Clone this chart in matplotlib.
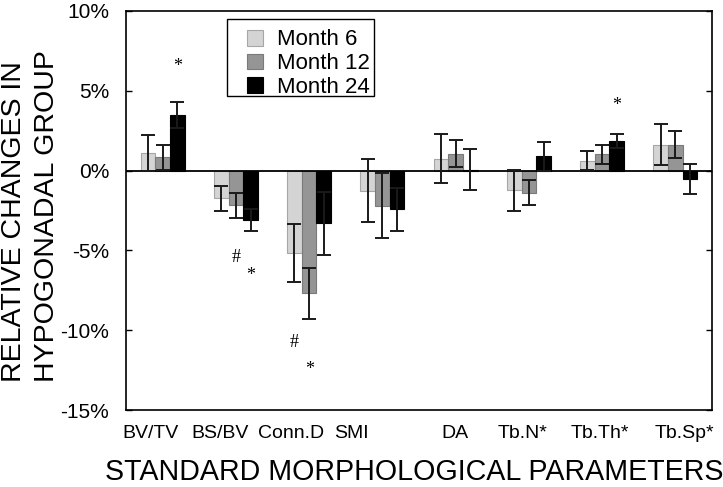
import matplotlib
matplotlib.use("Agg")
import matplotlib.pyplot as plt
from matplotlib.patches import Rectangle
import numpy as np

plt.rcParams['font.family'] = ['Liberation Sans', 'DejaVu Sans']

categories = ["BV/TV", "BS/BV", "Conn.D", "SMI", "DA", "Tb.N*", "Tb.Th*", "Tb.Sp*"]
series = ["Month 6", "Month 12", "Month 24"]

m6 = [1.10, -1.74, -5.19, -1.26, 0.75, -1.23, 0.63, 1.63]
m6_err = [1.10, 0.77, 1.82, 1.97, 1.53, 1.28, 0.60, 1.27]
m12 = [0.83, -2.16, -7.69, -2.20, 1.06, -1.38, 1.02, 1.63]
m12_err = [0.77, 0.78, 1.60, 2.04, 0.85, 0.76, 0.58, 0.87]
m24 = [3.47, -3.09, -3.31, -2.43, 0.06, 0.90, 1.85, -0.54]
m24_err = [0.82, 0.67, 2.00, 1.34, 1.30, 0.90, 0.44, 0.94]

# significance marks: symbol, group index, series index, value (%)
sig_sym = ["*", "#", "*", "#", "*", "*"]
sig_group = [0, 1, 1, 2, 2, 6]
sig_series = [2, 1, 2, 0, 1, 2]
sig_val = [6.5, -5.45, -6.55, -10.8, -12.45, 4.1]

yticks = [10, 5, 0, -5, -10, -15]
ytick_labels = ["10%", "5%", "0%", "-5%", "-10%", "-15%"]

fig = plt.figure(figsize=(7.23, 4.87), dpi=100)
ax = fig.add_axes([126 / 723, 77 / 487, 586 / 723, 399 / 487])

x = np.arange(len(categories))
w = 0.2
colors = ["#d4d4d4", "#959595", "#000000"]
edges = ["#a6a6a6", "#7a7a7a", "#000000"]
vals = [m6, m12, m24]
errs = [m6_err, m12_err, m24_err]

for k in range(3):
    pos = x + (k - 1) * w
    ax.bar(pos, vals[k], w, color=colors[k], edgecolor=edges[k], linewidth=0.8,
           label=series[k], zorder=2)
    ax.errorbar(pos, vals[k], yerr=errs[k], fmt="none", ecolor="#1a1a1a",
                elinewidth=1.4, capsize=5.2, capthick=1.4, zorder=4)

ax.axhline(0, color="black", linewidth=1.3, zorder=3)

for s, g, k, v in zip(sig_sym, sig_group, sig_series, sig_val):
    ax.text(g + (k - 1) * w, v, s, family="Liberation Serif", fontsize=13,
            ha="center", va="center", zorder=5)

ax.set_xlim(-0.5, len(categories) - 0.5)
ax.set_ylim(-15, 10)
ax.set_yticks(yticks)
ax.set_yticklabels(ytick_labels, fontsize=15)
ax.tick_params(axis="y", direction="in", length=4.5, width=1, pad=12, right=True)

# tick labels in the original are not centred exactly on the groups
label_pos = [-0.163, 0.783, 1.753, 2.581, 3.99, 4.92, 5.964, 7.13]
ax.set_xticks(label_pos)
ax.set_xticklabels(categories, fontsize=14)
ax.tick_params(axis="x", length=0, pad=11)

for sp in ax.spines.values():
    sp.set_linewidth(1.2)

# legend box drawn separately so the entries can sit inset like the original
ax.add_patch(Rectangle((0.1729, 0.787), 0.2503, 0.1922, transform=ax.transAxes,
                       facecolor="white", edgecolor="black", linewidth=1.0, zorder=6))
leg = ax.legend(loc="upper left", bbox_to_anchor=(0.2059, 0.954), borderaxespad=0,
                fontsize=16, frameon=False,
                handlelength=0.72, handleheight=0.72, handletextpad=0.64,
                labelspacing=0.13, borderpad=0)
leg.set_zorder(7)

fig.text(14.5 / 723, 1 - 382 / 487, "RELATIVE CHANGES IN", rotation=90,
         ha="center", va="bottom", fontsize=20.5)
fig.text(47.5 / 723, 1 - 382 / 487, "HYPOGONADAL GROUP", rotation=90,
         ha="center", va="bottom", fontsize=20.5)
fig.text(414 / 723, 0.5 / 487, "STANDARD MORPHOLOGICAL PARAMETERS",
         ha="center", va="bottom", fontsize=20.6)

fig.savefig("out.png", dpi=100)
